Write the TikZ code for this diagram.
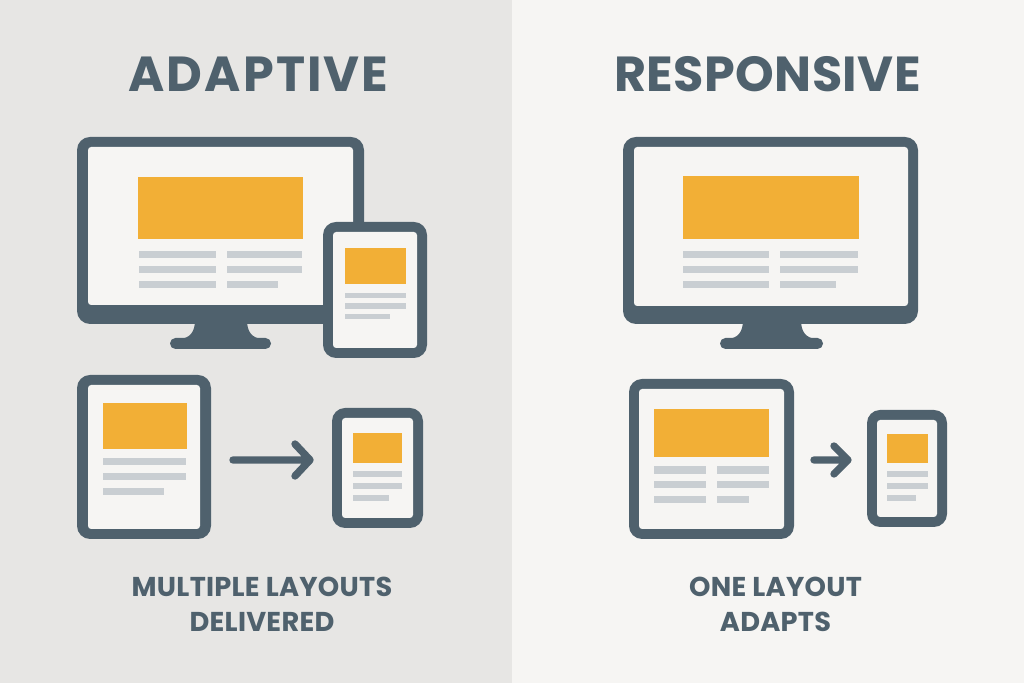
\documentclass[tikz,border=0pt]{standalone}
\usepackage{fontspec}
\setmainfont{Poppins}
\definecolor{panelL}{HTML}{E7E6E4}
\definecolor{panelR}{HTML}{F6F5F3}
\definecolor{slate}{HTML}{4F616D}
\definecolor{amber}{HTML}{F2AF36}
\definecolor{bar}{HTML}{C9CED2}
\tikzset{
	case/.style={fill=slate,rounded corners=3.7pt},
	screen/.style={fill=panelR,rounded corners=.9pt},
	banner/.style={fill=amber},
	textbar/.style={fill=bar},
	arrowline/.style={draw=slate,line width=2.1pt,line cap=round,line join=round},
	standbase/.style={fill=slate,rounded corners=1.55pt},
	heading/.style={text=slate,font=\fontsize{14pt}{18pt}\selectfont\bfseries,inner sep=0pt},
	caption/.style={text=slate,font=\fontsize{7.75pt}{9.9pt}\selectfont\bfseries\addfontfeature{LetterSpace=1},inner sep=0pt,align=center}
}
\begin{document}
\begin{tikzpicture}[x=.01cm,y=-.01cm,line join=round]
	\useasboundingbox (0,0) rectangle (1024,683);
	\fill[panelL] (0,0) rectangle (512,683);
	\fill[panelR] (512,0) rectangle (1024,683);
	\node[heading] (titleL) at (258.5,74.5) {\addfontfeature{LetterSpace=4.3}ADAPTIVE};
	\node[heading] (titleR) at (767.5,74.5) {\addfontfeature{LetterSpace=.9}RESPONSIVE};
	% left monitor
	\fill[slate] (195,320)..controls (195,332) and (190,338) .. (180,339)--(262,339)
		..controls (252,338) and (247,332) .. (247,320)--cycle;
	\fill[standbase] (170,338) rectangle (271,349);
	\fill[case] (77,137) rectangle (364,324);
	\fill[screen] (88,147) rectangle (353,305);
	\fill[banner] (138,177) rectangle (303,239);
	\foreach \y/\e in {251/302,266/302,281/278}{
		\fill[textbar] (139,\y) rectangle (216,\y+7);
		\fill[textbar] (227,\y) rectangle (\e,\y+7);
	}
	% phone in front of the monitor
	\fill[case] (323,222) rectangle (427,358);
	\fill[screen] (333,232) rectangle (417,348);
	\fill[banner] (345,248) rectangle (406,284);
	\foreach \y/\e in {293/406,303.5/406,314/390}{
		\fill[textbar] (345,\y) rectangle (\e,\y+5.5);
	}
	% left tablet
	\fill[case] (77,375) rectangle (211,539);
	\fill[screen] (88,385) rectangle (200,529);
	\fill[banner] (103,403) rectangle (187,449);
	\foreach \y/\e in {458/186,473/186,488/164}{
		\fill[textbar] (103,\y) rectangle (\e,\y+7);
	}
	\coordinate (A) at (233,460);
	\coordinate (B) at (310,460);
	\coordinate (C) at (295,444);
	\coordinate (D) at (295,476);
	\draw[arrowline] (A)--(B) (C)--(B)--(D);
	% left small phone
	\fill[case] (332,408) rectangle (423,528);
	\fill[screen] (342,418) rectangle (413,518);
	\fill[banner] (353,433) rectangle (402,463);
	\foreach \y/\e in {471/402,483/402,495/389}{
		\fill[textbar] (353,\y) rectangle (\e,\y+6);
	}
	% right monitor
	\fill[slate] (743,320)..controls (743,332) and (738,338) .. (728,339)--(816,339)
		..controls (806,338) and (801,332) .. (801,320)--cycle;
	\fill[standbase] (720,338) rectangle (823,349);
	\fill[case] (623,137) rectangle (918,324);
	\fill[screen] (634,147) rectangle (908,306);
	\fill[banner] (683,176) rectangle (859,239);
	\foreach \y/\e in {251/858,266/858,281/836}{
		\fill[textbar] (683,\y) rectangle (769,\y+7);
		\fill[textbar] (780,\y) rectangle (\e,\y+7);
	}
	% right tablet
	\fill[case] (629,379) rectangle (794,539);
	\fill[screen] (639,389) rectangle (784,529);
	\fill[banner] (654,409) rectangle (769,457);
	\foreach \y/\e in {466.5/769,481/769,496/749}{
		\fill[textbar] (654,\y) rectangle (706,\y+7.5);
		\fill[textbar] (717,\y) rectangle (\e,\y+7.5);
	}
	\coordinate (E) at (814,460);
	\coordinate (F) at (848,460);
	\coordinate (G) at (834,446);
	\coordinate (H) at (834,474);
	\draw[arrowline] (E)--(F) (G)--(F)--(H);
	% right small phone
	\fill[case] (867,410) rectangle (947,527);
	\fill[screen] (877,420) rectangle (937,517);
	\fill[banner] (887,434) rectangle (928,463);
	\foreach \y/\e in {471/928,483/928,495/916}{
		\fill[textbar] (887,\y) rectangle (\e,\y+6);
	}
	\node[caption] (capL) at (262,604) {MULTIPLE LAYOUTS\\DELIVERED};
	\node[caption] (capR) at (775.5,604) {ONE LAYOUT\\ADAPTS};
\end{tikzpicture}
\end{document}
